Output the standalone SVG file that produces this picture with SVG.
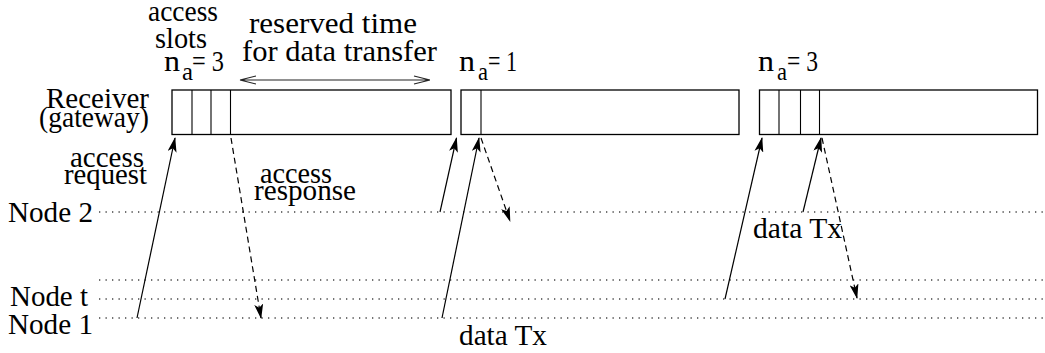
<svg xmlns="http://www.w3.org/2000/svg" width="1045" height="353" viewBox="0 0 1045 353">
<style>
text{font-family:"Liberation Serif","Times New Roman",serif;font-size:30px;fill:#000}
.sub{font-size:25px}
.box{fill:#fff;stroke:#000;stroke-width:1.3}
.div{stroke:#000;stroke-width:1.1}
.dot{stroke:#444;stroke-width:1.3;stroke-dasharray:1.3 5.2;fill:none}
.sol{stroke:#000;stroke-width:1.2;fill:none;marker-end:url(#ah)}
.dash{stroke:#000;stroke-width:1.2;fill:none;stroke-dasharray:6 4;marker-end:url(#ah)}
.dbl{stroke:#222;stroke-width:1.1;fill:none}
</style>
<defs>
<marker id="ah" viewBox="0 0 15 9" refX="14" refY="4.5" markerWidth="15" markerHeight="9" markerUnits="userSpaceOnUse" orient="auto">
<path d="M0,0 L15,4.5 L0,9 L3.5,4.5 z" fill="#000"/>
</marker>
</defs>
<rect width="1045" height="353" fill="#fff"/>
<g id="timelines">
<line class="dot" x1="99" y1="212" x2="1045" y2="212"/>
<line class="dot" x1="99" y1="280" x2="1045" y2="280"/>
<line class="dot" x1="99" y1="299" x2="1045" y2="299"/>
<line class="dot" x1="99" y1="318" x2="1045" y2="318"/>
</g>
<g id="frame1">
<rect class="box" x="172" y="90" width="279" height="44.5"/>
<line class="div" x1="192" y1="90" x2="192" y2="134.5"/>
<line class="div" x1="211" y1="90" x2="211" y2="134.5"/>
<line class="div" x1="230.5" y1="90" x2="230.5" y2="134.5"/>
</g>
<g id="frame2">
<rect class="box" x="461" y="90" width="278" height="44.5"/>
<line class="div" x1="481" y1="90" x2="481" y2="134.5"/>
</g>
<g id="frame3">
<rect class="box" x="759.5" y="90" width="278" height="44.5"/>
<line class="div" x1="779" y1="90" x2="779" y2="134.5"/>
<line class="div" x1="800.5" y1="90" x2="800.5" y2="134.5"/>
<line class="div" x1="819.5" y1="90" x2="819.5" y2="134.5"/>
</g>
<g id="labels">
<text x="148" y="21" textLength="70" lengthAdjust="spacingAndGlyphs">access</text>
<text x="155" y="48" textLength="52" lengthAdjust="spacingAndGlyphs">slots</text>
<text x="164" y="71" textLength="16" lengthAdjust="spacingAndGlyphs">n</text>
<text class="sub" x="182" y="80" textLength="11" lengthAdjust="spacingAndGlyphs">a</text>
<text x="192" y="71" textLength="32" lengthAdjust="spacingAndGlyphs">= 3</text>
<text x="249" y="33" textLength="168" lengthAdjust="spacingAndGlyphs">reserved time</text>
<text x="242" y="61" textLength="195" lengthAdjust="spacingAndGlyphs">for data transfer</text>
<text x="459" y="71" textLength="16" lengthAdjust="spacingAndGlyphs">n</text>
<text class="sub" x="478" y="80" textLength="10" lengthAdjust="spacingAndGlyphs">a</text>
<text x="488" y="71" textLength="29" lengthAdjust="spacingAndGlyphs">= 1</text>
<text x="758" y="71" textLength="16" lengthAdjust="spacingAndGlyphs">n</text>
<text class="sub" x="777" y="80" textLength="10" lengthAdjust="spacingAndGlyphs">a</text>
<text x="787" y="71" textLength="31" lengthAdjust="spacingAndGlyphs">= 3</text>
<text x="46" y="108" textLength="103" lengthAdjust="spacingAndGlyphs">Receiver</text>
<text x="39" y="127" textLength="110" lengthAdjust="spacingAndGlyphs">(gateway)</text>
<text x="70" y="167" textLength="74" lengthAdjust="spacingAndGlyphs">access</text>
<text x="64" y="184" textLength="83" lengthAdjust="spacingAndGlyphs">request</text>
<text x="260" y="183" textLength="72" lengthAdjust="spacingAndGlyphs">access</text>
<text x="254" y="200" textLength="102" lengthAdjust="spacingAndGlyphs">response</text>
<text x="8" y="222" textLength="85" lengthAdjust="spacingAndGlyphs">Node 2</text>
<text x="10" y="306" textLength="78" lengthAdjust="spacingAndGlyphs">Node t</text>
<text x="8" y="334" textLength="85" lengthAdjust="spacingAndGlyphs">Node 1</text>
<text x="459" y="345" textLength="88" lengthAdjust="spacingAndGlyphs">data Tx</text>
<text x="753" y="238" textLength="89" lengthAdjust="spacingAndGlyphs">data Tx</text>
</g>
<g id="connectors">
<path class="dbl" d="M240,80 L430,80 M240,80 L256,76 M240,80 L256,84 M430,80 L414,76 M430,80 L414,84"/>
<line class="sol" x1="137" y1="318" x2="175" y2="138"/>
<line class="dash" x1="231" y1="138" x2="261" y2="318"/>
<line class="sol" x1="440" y1="212" x2="456.5" y2="138"/>
<line class="sol" x1="442" y1="318" x2="479" y2="138"/>
<line class="dash" x1="481" y1="138" x2="510" y2="221"/>
<line class="sol" x1="725" y1="299" x2="762" y2="138"/>
<line class="sol" x1="803" y1="212" x2="821" y2="138"/>
<line class="dash" x1="822" y1="138" x2="857" y2="298"/>
</g>
</svg>
